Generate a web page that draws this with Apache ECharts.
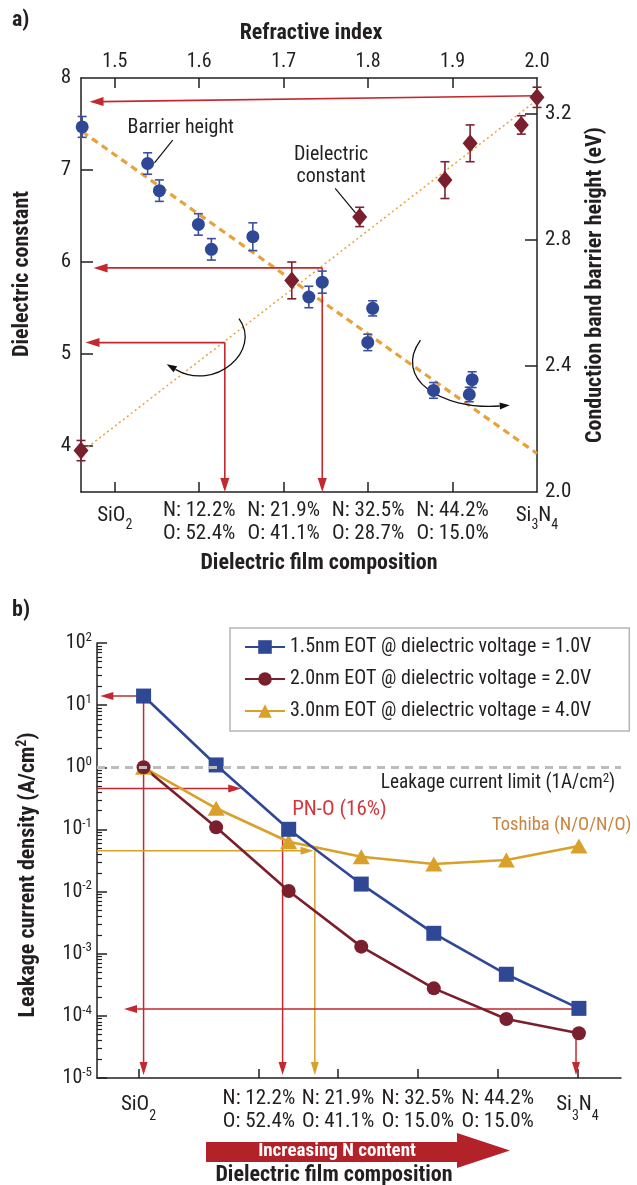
<!DOCTYPE html>
<html><head><meta charset="utf-8">
<script src="https://cdn.jsdelivr.net/npm/echarts@6/dist/echarts.min.js"></script>
<style>html,body{margin:0;padding:0;background:#fff}#c{width:637px;height:1185px}</style>
</head><body><div id="c"></div>
<script>
// ================= Panel a data =================
const refrTicks = [1.5, 1.6, 1.7, 1.8, 1.9, 2.0];
const compLabelsA = ['SiO2', 'N: 12.2%\nO: 52.4%', 'N: 21.9%\nO: 41.1%', 'N: 32.5%\nO: 28.7%', 'N: 44.2%\nO: 15.0%', 'Si3N4'];
const dielTicks = [4, 5, 6, 7, 8];
const barrierTicks = [2.0, 2.4, 2.8, 3.2];

const barrierN   = [1.4614, 1.5389, 1.5528, 1.599, 1.6144, 1.6635, 1.7298, 1.7457, 1.8054, 1.7996, 1.8775, 1.9198, 1.9232];
const barrierEv  = [3.157, 3.041, 2.955, 2.848, 2.769, 2.809, 2.618, 2.665, 2.582, 2.474, 2.322, 2.309, 2.356];
const barrierErr = [0.033, 0.034, 0.034, 0.034, 0.034, 0.044, 0.034, 0.035, 0.024, 0.026, 0.025, 0.023, 0.025];

const dielN   = [1.46, 1.7096, 1.79, 1.891, 1.9208, 1.9814, 2.0];
const dielK   = [3.95, 5.80, 6.49, 6.89, 7.29, 7.49, 7.79];
const dielErr = [0.11, 0.2, 0.105, 0.2, 0.2, 0.1, 0.11];

const barrierFitLine = [[1.4614, 3.142], [2.0, 2.122]];
const dielFitLine    = [[1.4629, 3.952], [2.0, 7.761]];

const arrowsA  = [[2.0, 7.807, 1.4701, 7.742], [1.7457, 5.936, 1.4749, 5.936], [1.7457, 5.936, 1.7457, 3.5],
                  [1.6303, 5.124, 1.4653, 5.124], [1.6303, 5.124, 1.6303, 3.5]];
const curvesA  = [[1.6471, 5.385, 1.6746, 5.040, 1.6189, 4.583, 1.5615, 4.888],
                  [1.862, 5.151, 1.8296, 4.738, 1.8852, 4.390, 1.9677, 4.442]];
const leadersA = [[1.5686, 7.325, 1.547, 7.078], [1.761, 6.800, 1.7851, 6.534]];
const notesA   = ['Barrier height', 'Dielectric\nconstant'];
const notesAPos = [[1.5782, 7.459], [1.7562, 7.044]];

// ================= Panel b data =================
const filmIndex = [0, 1, 2, 3, 4, 5, 6];
const eot15 = [14.0, 1.09, 0.1005, 0.0132, 0.00213, 4.67e-4, 1.32e-4];
const eot20 = [1.0, 0.108, 0.0102, 1.30e-3, 2.77e-4, 8.9e-5, 5.24e-5];
const eot30 = [1.0, 0.219, 0.0634, 0.0363, 0.0277, 0.0322, 0.054];
const seriesNamesB = ['1.5nm EOT @ dielectric voltage = 1.0V', '2.0nm EOT @ dielectric voltage = 2.0V', '3.0nm EOT @ dielectric voltage = 4.0V'];
const compTicksB = [-0.07, 1.59, 2.68, 3.78, 4.88, 5.98];
const compLabelsB = ['SiO2', 'N: 12.2%\nO: 52.4%', 'N: 21.9%\nO: 41.1%', 'N: 32.5%\nO: 15.0%', 'N: 44.2%\nO: 15.0%', 'Si3N4'];
const leakageLimit = 1;
const arrowsB = [[0, 14, -0.596, 14], [0, 14, 0, 1.12e-5], [-0.642, 0.454, 1.346, 0.454], [1.916, 0.1, 1.916, 1.12e-5],
                 [-0.642, 0.0455, 2.343, 0.0455], [2.36, 0.0455, 2.36, 1.12e-5], [6, 1.29e-4, -0.27, 1.29e-4], [5.96, 5.24e-5, 5.96, 1.12e-5]];
const arrowsBColor = ['r', 'r', 'r', 'r', 'y', 'y', 'r', 'r'];
const notesB = ['Leakage current limit (1A/cm2)', 'PN-O (16%)', 'Toshiba (N/O/N/O)'];
const notesBPos = [[3.27, 0.552], [2.048, 0.206], [4.803, 0.118]];

// ================= styling =================
const F = "'Liberation Sans Narrow','Roboto Condensed','DejaVu Sans Condensed','Arial Narrow',sans-serif";
const TXT = '#231f20';
const RED = '#c4282e', GOLD = '#d9a02a', BLUE = '#2f4896', MAROON = '#7a1f2e', ORANGE = '#e9a23a';

const minorLogs = [];
for (let e = -5; e < 2; e++) for (let m = 2; m <= 9; m++) minorLogs.push(Math.log10(m) + e);

function findIdx(arr, v) { return arr.findIndex(t => Math.abs(t - v) < 1e-6); }
function chemRich(s) { return '{c|' + s.replace(/(\d)/g, '}{s|$1}{c|') + '}'; }
function compFormatter(labels, ticks) {
  return function (v) {
    const i = findIdx(ticks, v);
    if (i < 0) return '';
    const l = labels[i];
    if (l.indexOf('\n') >= 0) return l.split('\n').map(x => '{m|' + x + '}').join('\n');
    return chemRich(l);
  };
}
function richComp(fs, subFs, lh, chemLh, subLh) {
  return {
    m: {fontSize: fs, lineHeight: lh, fontFamily: F, color: TXT},
    c: {fontSize: fs, lineHeight: chemLh, fontFamily: F, color: TXT},
    s: {fontSize: subFs, lineHeight: subLh, verticalAlign: 'bottom', fontFamily: F, color: TXT}
  };
}
const axLine = {show: true, onZero: false, lineStyle: {color: TXT, width: 1.5}};

function arrowRender(colorFn, L, W, lw) {
  return function (params, api) {
    const p0 = api.coord([api.value(0), api.value(1)]);
    const p1 = api.coord([api.value(2), api.value(3)]);
    const dx = p1[0] - p0[0], dy = p1[1] - p0[1];
    const len = Math.hypot(dx, dy) || 1;
    const ux = dx / len, uy = dy / len, nx = -uy, ny = ux;
    const bx = p1[0] - ux * L, by = p1[1] - uy * L;
    const col = colorFn(params.dataIndex);
    return {type: 'group', children: [
      {type: 'line', shape: {x1: p0[0], y1: p0[1], x2: bx + ux * 2, y2: by + uy * 2}, style: {stroke: col, lineWidth: lw}},
      {type: 'polygon', shape: {points: [[p1[0], p1[1]], [bx + nx * W, by + ny * W], [bx - nx * W, by - ny * W]]}, style: {fill: col}}
    ]};
  };
}
function curveRender(params, api) {
  const p = [0, 1, 2, 3].map(k => api.coord([api.value(2 * k), api.value(2 * k + 1)]));
  const dx = p[3][0] - p[2][0], dy = p[3][1] - p[2][1];
  const len = Math.hypot(dx, dy) || 1;
  const ux = dx / len, uy = dy / len, nx = -uy, ny = ux, L = 10, W = 3.5;
  const bx = p[3][0] - ux * L, by = p[3][1] - uy * L;
  return {type: 'group', children: [
    {type: 'bezierCurve', shape: {x1: p[0][0], y1: p[0][1], cpx1: p[1][0], cpy1: p[1][1], cpx2: p[2][0], cpy2: p[2][1], x2: bx, y2: by},
     style: {stroke: '#111', lineWidth: 1.3, fill: null}},
    {type: 'polygon', shape: {points: [[p[3][0], p[3][1]], [bx + nx * W, by + ny * W], [bx - nx * W, by - ny * W]]}, style: {fill: '#111'}}
  ]};
}
function segRender(params, api) {
  const p0 = api.coord([api.value(0), api.value(1)]);
  const p1 = api.coord([api.value(2), api.value(3)]);
  return {type: 'line', shape: {x1: p0[0], y1: p0[1], x2: p1[0], y2: p1[1]}, style: {stroke: '#111', lineWidth: 1.2}};
}
function errRender(color) {
  return function (params, api) {
    const x = api.value(0), y = api.value(1), e = api.value(2);
    const t = api.coord([x, y + e]), b = api.coord([x, y - e]);
    const cw = 4.5;
    const st = {stroke: color, lineWidth: 1.6};
    return {type: 'group', children: [
      {type: 'line', shape: {x1: t[0], y1: t[1], x2: b[0], y2: b[1]}, style: st},
      {type: 'line', shape: {x1: t[0] - cw, y1: t[1], x2: t[0] + cw, y2: t[1]}, style: st},
      {type: 'line', shape: {x1: b[0] - cw, y1: b[1], x2: b[0] + cw, y2: b[1]}, style: st}
    ]};
  };
}
function textRender(texts, colors, align, sizes) {
  return function (params, api) {
    const p = api.coord([api.value(0), api.value(1)]);
    const i = params.dataIndex;
    const fs = sizes[i], col = colors[i];
    const rich = {
      n: {fontSize: fs, lineHeight: 22, fontFamily: F, fill: col, color: col},
      p: {fontSize: Math.round(fs * 0.65), lineHeight: 12, verticalAlign: 'top', fontFamily: F, fill: col, color: col}
    };
    const txt = texts[i].split('\n').map(line => {
      const m = line.match(/^(.*cm)2(\).*)$/);
      if (m) return '{n|' + m[1] + '}{p|2}{n|' + m[2] + '}';
      return '{n|' + line + '}';
    }).join('\n');
    return {type: 'text', x: p[0], y: p[1], style: {
      text: txt, rich: rich, fill: col, fontFamily: F, fontSize: fs,
      align: align, textAlign: align, verticalAlign: 'middle', textVerticalAlign: 'middle'}};
  };
}

const chart = echarts.init(document.getElementById('c'), null, {renderer: 'canvas'});

const titleStyle = (t, align) => ({text: t, fontFamily: F, fontSize: 22, fontWeight: 'bold', fill: TXT,
  align: align || 'center', verticalAlign: 'middle', textAlign: align || 'center', textVerticalAlign: 'middle'});

const option = {
  animation: false,
  backgroundColor: '#fff',
  textStyle: {fontFamily: F},
  grid: [
    {left: 81, top: 78, width: 456, height: 414},
    {left: 97, top: 643, width: 524, height: 435}
  ],
  legend: {
    data: seriesNamesB, orient: 'vertical', left: 230, top: 628,
    padding: [8, 38, 9, 14], itemWidth: 40, itemHeight: 17, itemGap: 10,
    backgroundColor: '#fff', borderColor: '#b5b5b5', borderWidth: 1.5, borderRadius: 0,
    textStyle: {fontFamily: F, fontSize: 20, color: TXT, lineHeight: 22}, selectedMode: false
  },
  xAxis: [
    {gridIndex: 0, type: 'value', position: 'bottom', min: 1.46, max: 2.0, axisLine: axLine,
     axisTick: {show: true, inside: true, length: 10, customValues: refrTicks.slice(0, 5), lineStyle: {color: TXT, width: 1.5}},
     axisLabel: {customValues: refrTicks, margin: 7, formatter: compFormatter(compLabelsA, refrTicks), rich: richComp(21, 14, 23, 33, 22)},
     splitLine: {show: false}},
    {gridIndex: 0, type: 'value', position: 'top', min: 1.46, max: 2.0, axisLine: axLine,
     axisTick: {show: true, inside: true, length: 10, customValues: refrTicks.slice(0, 5), lineStyle: {color: TXT, width: 1.5}},
     axisLabel: {customValues: refrTicks, margin: 6, fontSize: 20, lineHeight: 20, color: TXT, fontFamily: F, formatter: v => v.toFixed(1)},
     splitLine: {show: false}},
    {gridIndex: 1, type: 'value', position: 'bottom', min: -0.642, max: 6.58, axisLine: axLine,
     axisTick: {show: true, inside: true, length: 9, customValues: compTicksB, lineStyle: {color: TXT, width: 1.5}},
     axisLabel: {customValues: compTicksB, margin: 9, formatter: compFormatter(compLabelsB, compTicksB), rich: richComp(21, 14, 23, 36, 26)},
     splitLine: {show: false}}
  ],
  yAxis: [
    {gridIndex: 0, type: 'value', position: 'left', min: 3.5, max: 8, axisLine: axLine,
     axisTick: {show: true, inside: true, length: 12, customValues: [4, 5, 6, 7], lineStyle: {color: TXT, width: 1.5}},
     axisLabel: {customValues: dielTicks, margin: 10, fontSize: 21, color: TXT, fontFamily: F},
     splitLine: {show: false}},
    {gridIndex: 0, type: 'value', position: 'right', min: 2.0, max: 3.312, axisLine: axLine,
     axisTick: {show: true, inside: true, length: 12, customValues: [2.4, 2.8, 3.2], lineStyle: {color: TXT, width: 1.5}},
     axisLabel: {customValues: barrierTicks, margin: 8, fontSize: 21, color: TXT, fontFamily: F, formatter: v => v.toFixed(1)},
     splitLine: {show: false}},
    {gridIndex: 1, type: 'log', logBase: 10, position: 'left', min: 1e-5, max: 100, splitNumber: 7, axisLine: axLine,
     axisTick: {show: true, inside: true, length: 10, lineStyle: {color: TXT, width: 1.5}},
     axisLabel: {margin: 5, formatter: v => '{b|10}{p|' + Math.round(Math.log10(v)) + '}',
       rich: {b: {fontSize: 20, lineHeight: 24, fontFamily: F, color: TXT}, p: {fontSize: 13, lineHeight: 13, verticalAlign: 'top', fontFamily: F, color: TXT}}},
     splitLine: {show: false}, minorTick: {show: false}},
    {gridIndex: 1, type: 'value', position: 'left', min: -5, max: 2, axisLine: {show: false, onZero: false},
     axisTick: {show: true, inside: true, length: 5, customValues: minorLogs, lineStyle: {color: TXT, width: 1.2}},
     axisLabel: {show: false}, splitLine: {show: false}}
  ],
  series: [
    // ---- panel a ----
    {type: 'line', xAxisIndex: 0, yAxisIndex: 1, data: barrierFitLine, symbol: 'none', silent: true,
     lineStyle: {color: ORANGE, width: 3.2, type: [7, 5]}, z: 1},
    {type: 'line', xAxisIndex: 0, yAxisIndex: 0, data: dielFitLine, symbol: 'none', silent: true,
     lineStyle: {color: ORANGE, width: 1.5, type: [2, 3]}, z: 1},
    {type: 'custom', xAxisIndex: 0, yAxisIndex: 0, data: arrowsA, renderItem: arrowRender(() => RED, 14, 4.5, 1.6), silent: true, z: 2},
    {type: 'custom', xAxisIndex: 0, yAxisIndex: 0, data: curvesA, renderItem: curveRender, silent: true, z: 2},
    {type: 'custom', xAxisIndex: 0, yAxisIndex: 0, data: leadersA, renderItem: segRender, silent: true, z: 2},
    {type: 'custom', xAxisIndex: 0, yAxisIndex: 0, data: notesAPos, renderItem: textRender(notesA, [TXT, TXT], 'center', [20, 20]), silent: true, z: 3},
    {type: 'custom', xAxisIndex: 0, yAxisIndex: 1, data: barrierN.map((n, i) => [n, barrierEv[i], barrierErr[i]]), renderItem: errRender('#3b4f9e'), silent: true, z: 3},
    {type: 'scatter', xAxisIndex: 0, yAxisIndex: 1, data: barrierN.map((n, i) => [n, barrierEv[i]]), symbol: 'circle', symbolSize: 13,
     itemStyle: {color: BLUE, opacity: 1}, z: 4},
    {type: 'custom', xAxisIndex: 0, yAxisIndex: 0, data: dielN.map((n, i) => [n, dielK[i], dielErr[i]]), renderItem: errRender('#7d2231'), silent: true, z: 3},
    {type: 'scatter', xAxisIndex: 0, yAxisIndex: 0, data: dielN.map((n, i) => [n, dielK[i]]), symbol: 'diamond', symbolSize: [15, 18],
     itemStyle: {color: MAROON, opacity: 1}, z: 4},
    // ---- panel b ----
    {type: 'custom', xAxisIndex: 2, yAxisIndex: 2, data: arrowsB, renderItem: arrowRender(i => arrowsBColor[i] === 'y' ? GOLD : RED, 13, 4, 1.5), silent: true, z: 2},
    {type: 'line', name: seriesNamesB[2], xAxisIndex: 2, yAxisIndex: 2, data: filmIndex.map((x, i) => [x, eot30[i]]),
     symbol: 'triangle', symbolSize: [17, 15], lineStyle: {color: GOLD, width: 2.6}, itemStyle: {color: GOLD}, z: 3,
     markLine: {silent: true, symbol: 'none', label: {show: false}, lineStyle: {color: '#bdbdbd', width: 3, type: [8, 6]}, data: [{yAxis: leakageLimit}]}},
    {type: 'line', name: seriesNamesB[1], xAxisIndex: 2, yAxisIndex: 2, data: filmIndex.map((x, i) => [x, eot20[i]]),
     symbol: 'circle', symbolSize: 14, lineStyle: {color: MAROON, width: 2.6}, itemStyle: {color: MAROON}, z: 3},
    {type: 'line', name: seriesNamesB[0], xAxisIndex: 2, yAxisIndex: 2, data: filmIndex.map((x, i) => [x, eot15[i]]),
     symbol: 'rect', symbolSize: 15, lineStyle: {color: BLUE, width: 2.6}, itemStyle: {color: BLUE}, z: 3},
    {type: 'custom', xAxisIndex: 2, yAxisIndex: 2, data: notesBPos, renderItem: textRender(notesB, [TXT, '#d2373c', '#c9843f'], 'left', [19.3, 21, 18.5]), silent: true, z: 4}
  ],
  graphic: [
    {type: 'text', x: 12, y: 20, style: titleStyle('a)', 'left')},
    {type: 'text', x: 311, y: 33, style: titleStyle('Refractive index')},
    {type: 'text', x: 22, y: 274, rotation: Math.PI / 2, style: titleStyle('Dielectric constant')},
    {type: 'text', x: 595, y: 285, rotation: Math.PI / 2, style: titleStyle('Conduction band barrier height (eV)')},
    {type: 'text', x: 319, y: 563, style: titleStyle('Dielectric film composition')},
    {type: 'text', x: 12, y: 610, style: titleStyle('b)', 'left')},
    {type: 'text', x: 28, y: 875, rotation: Math.PI / 2, style: {text: '{t|Leakage current density (A/cm}{u|2}{t|)}', fill: TXT, align: 'center', verticalAlign: 'middle', textAlign: 'center', textVerticalAlign: 'middle',
      rich: {t: {fontFamily: F, fontSize: 22, fontWeight: 'bold', lineHeight: 26, fill: TXT, color: TXT}, u: {fontFamily: F, fontSize: 14, fontWeight: 'bold', lineHeight: 14, verticalAlign: 'top', fill: TXT, color: TXT}}}},
    {type: 'polygon', shape: {points: [[206, 1142], [457, 1142], [457, 1133], [510, 1150.5], [457, 1168], [457, 1162], [206, 1162]]}, style: {fill: '#b32228'}},
    {type: 'text', x: 337, y: 1151, style: {text: 'Increasing N content', fontFamily: F, fontSize: 19, fontWeight: 'bold', fill: '#fff', align: 'center', verticalAlign: 'middle', textAlign: 'center', textVerticalAlign: 'middle'}},
    {type: 'text', x: 334, y: 1175, style: titleStyle('Dielectric film composition')}
  ]
};
chart.setOption(option);
</script>
</body></html>
